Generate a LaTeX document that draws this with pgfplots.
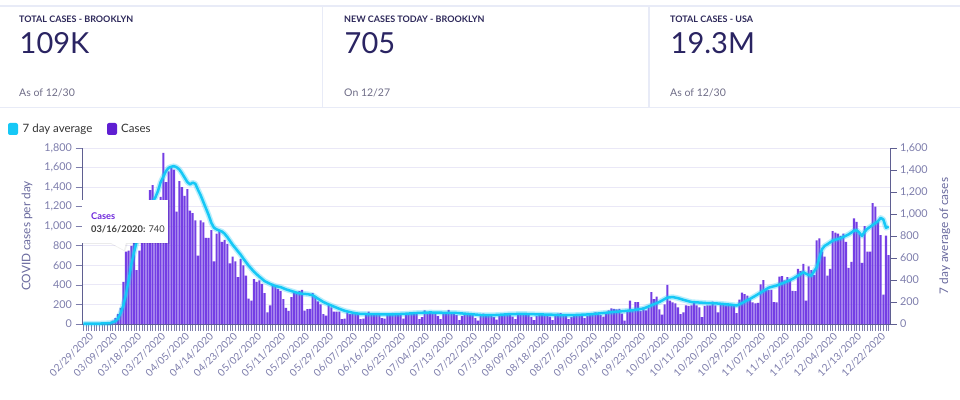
\documentclass[border=0pt]{standalone}
\usepackage{pgfplots}
\pgfplotsset{compat=1.18}
\usepackage{fontspec}
\setmainfont{Lato}
\definecolor{barc}{RGB}{116,62,228}
\definecolor{linec}{RGB}{22,200,246}
\definecolor{gridc}{RGB}{234,232,247}
\definecolor{axc}{RGB}{95,95,145}
\definecolor{tickc}{RGB}{125,125,172}
\definecolor{labc}{RGB}{105,105,158}
\definecolor{navy}{RGB}{42,36,98}
\definecolor{subgray}{RGB}{110,108,135}
\definecolor{headc}{RGB}{45,40,90}
\definecolor{panelline}{RGB}{232,235,247}
\definecolor{legpurple}{RGB}{95,30,210}
\definecolor{tipc}{RGB}{110,40,220}
\pgfplotsset{/pgf/number format/.cd, 1000 sep={,}, assume math mode=true}
\begin{document}
\begin{tikzpicture}[x=1pt,y=1pt]
\path[use as bounding box, fill=white] (0pt,0pt) rectangle (960pt,399pt);
% header panels
\draw[panelline, line width=1.2pt] (0pt,393pt) -- (960pt,393pt);
\draw[panelline, line width=1.2pt] (0pt,291.5pt) -- (960pt,291.5pt);
\draw[panelline, line width=1.2pt] (322.7pt,393pt) -- (322.7pt,291.5pt);
\draw[panelline, line width=1.2pt] (649pt,393pt) -- (649pt,291.5pt);
\foreach \xx/\ta/\tb/\tc in {19/TOTAL CASES - BROOKLYN/109K/As of 12\slash 30, 344/NEW CASES TODAY - BROOKLYN/705/On 12\slash 27, 670/TOTAL CASES - USA/19.3M/As of 12\slash 30}{
  \node[anchor=base west, inner sep=0, font=\bfseries\fontsize{9}{10}\selectfont, text=headc] at (\xx pt,376pt) {\ta};
  \node[anchor=base west, inner sep=0, font=\fontsize{29}{30}\selectfont, text=navy] at (\xx pt+0.5pt,345pt) {\tb};
  \node[anchor=base west, inner sep=0, font=\fontsize{10.5}{12}\selectfont, text=subgray] at (\xx pt,302.5pt) {\tc};
}
% legend
\fill[linec, rounded corners=2pt] (8pt,264pt) rectangle (18pt,276pt);
\node[anchor=base west, inner sep=0, font=\fontsize{11.5}{12}\selectfont, text=black!80] at (22.5pt,266pt) {7 day average};
\fill[legpurple, rounded corners=2pt] (107pt,264pt) rectangle (117pt,276pt);
\node[anchor=base west, inner sep=0, font=\fontsize{11.5}{12}\selectfont, text=black!80] at (121pt,266pt) {Cases};

\begin{axis}[at={(82pt,75pt)}, anchor=south west, scale only axis,
  width=808pt, height=176pt,
  xmin=-0.5, xmax=302.5, ymin=0, ymax=1800,
  axis x line*=bottom, axis y line*=left,
  axis line style={axc, line width=1pt, -},
  xtick={0,9,...,297},
  xticklabels={02/29/2020,03/09/2020,03/18/2020,03/27/2020,04/05/2020,04/14/2020,04/23/2020,05/02/2020,05/11/2020,05/20/2020,05/29/2020,06/07/2020,06/16/2020,06/25/2020,07/04/2020,07/13/2020,07/22/2020,07/31/2020,08/09/2020,08/18/2020,08/27/2020,09/05/2020,09/14/2020,09/23/2020,10/02/2020,10/11/2020,10/20/2020,10/29/2020,11/07/2020,11/16/2020,11/25/2020,12/04/2020,12/13/2020,12/22/2020},
  minor xtick={0,1,...,302},
  ytick={0,200,...,1800},
  tick align=outside,
  major tick length=6.5pt, minor tick length=6.5pt,
  every tick/.style={tickc, line width=0.7pt},
  x tick label style={rotate=45, anchor=north east, font=\fontsize{10.2}{11}\selectfont, text=tickc, inner sep=1pt, xshift=4pt, yshift=-3.5pt},
  y tick label style={font=\fontsize{10.8}{11}\selectfont, text=tickc},
  ymajorgrids, grid style={gridc, line width=1pt},
  ylabel={COVID cases per day},
  ylabel style={at={(axis description cs:-0.068,0.5)}, anchor=center, font=\fontsize{11.8}{12}\selectfont, text=labc},
  clip=false,
]
\addplot[ybar, bar width=0.8, bar shift=0, fill=barc, draw=none] table[row sep=\\] {
x y\\
0 0\\ 1 0\\ 2 0\\ 3 1\\ 4 1\\ 5 2\\ 6 3\\ 7 5\\ 8 8\\ 9 12\\
10 20\\ 11 35\\ 12 60\\ 13 100\\ 14 165\\ 15 430\\ 16 740\\ 17 750\\ 18 800\\ 19 840\\
20 550\\ 21 750\\ 22 880\\ 23 980\\ 24 1100\\ 25 1370\\ 26 1420\\ 27 1150\\ 28 1250\\ 29 1300\\
30 1750\\ 31 1450\\ 32 1560\\ 33 1600\\ 34 1580\\ 35 1150\\ 36 1460\\ 37 1400\\ 38 1310\\ 39 1380\\
40 1160\\ 41 1135\\ 42 1060\\ 43 700\\ 44 1060\\ 45 1040\\ 46 880\\ 47 880\\ 48 960\\ 49 640\\
50 925\\ 51 960\\ 52 840\\ 53 860\\ 54 820\\ 55 620\\ 56 690\\ 57 640\\ 58 480\\ 59 665\\
60 600\\ 61 495\\ 62 260\\ 63 240\\ 64 460\\ 65 430\\ 66 445\\ 67 410\\ 68 315\\ 69 120\\
70 190\\ 71 410\\ 72 400\\ 73 360\\ 74 340\\ 75 255\\ 76 165\\ 77 135\\ 78 275\\ 79 325\\
80 325\\ 81 335\\ 82 350\\ 83 136\\ 84 153\\ 85 155\\ 86 315\\ 87 275\\ 88 232\\ 89 200\\
90 100\\ 91 85\\ 92 200\\ 93 170\\ 94 126\\ 95 126\\ 96 126\\ 97 51\\ 98 55\\ 99 120\\
100 102\\ 101 102\\ 102 102\\ 103 100\\ 104 51\\ 105 55\\ 106 102\\ 107 126\\ 108 105\\ 109 110\\
110 100\\ 111 95\\ 112 60\\ 113 55\\ 114 100\\ 115 110\\ 116 115\\ 117 105\\ 118 100\\ 119 90\\
120 55\\ 121 95\\ 122 110\\ 123 115\\ 124 120\\ 125 110\\ 126 50\\ 127 70\\ 128 140\\ 129 115\\
130 110\\ 131 120\\ 132 105\\ 133 80\\ 134 50\\ 135 110\\ 136 120\\ 137 145\\ 138 115\\ 139 110\\
140 90\\ 141 40\\ 142 80\\ 143 100\\ 144 110\\ 145 105\\ 146 95\\ 147 60\\ 148 35\\ 149 85\\
150 105\\ 151 95\\ 152 100\\ 153 95\\ 154 70\\ 155 45\\ 156 85\\ 157 100\\ 158 95\\ 159 105\\
160 100\\ 161 75\\ 162 50\\ 163 90\\ 164 100\\ 165 110\\ 166 100\\ 167 95\\ 168 70\\ 169 40\\
170 80\\ 171 100\\ 172 105\\ 173 100\\ 174 95\\ 175 75\\ 176 40\\ 177 90\\ 178 105\\ 179 110\\
180 100\\ 181 90\\ 182 50\\ 183 70\\ 184 95\\ 185 100\\ 186 90\\ 187 80\\ 188 60\\ 189 85\\
190 100\\ 191 110\\ 192 120\\ 193 115\\ 194 90\\ 195 75\\ 196 110\\ 197 140\\ 198 160\\ 199 155\\
200 150\\ 201 155\\ 202 105\\ 203 35\\ 204 130\\ 205 240\\ 206 140\\ 207 225\\ 208 225\\ 209 135\\
210 170\\ 211 140\\ 212 170\\ 213 325\\ 214 255\\ 215 280\\ 216 150\\ 217 95\\ 218 200\\ 219 400\\
220 240\\ 221 220\\ 222 210\\ 223 170\\ 224 100\\ 225 120\\ 226 190\\ 227 185\\ 228 190\\ 229 230\\
230 190\\ 231 170\\ 232 70\\ 233 185\\ 234 190\\ 235 190\\ 236 230\\ 237 190\\ 238 120\\ 239 200\\
240 195\\ 241 190\\ 242 200\\ 243 190\\ 244 185\\ 245 110\\ 246 250\\ 247 320\\ 248 305\\ 249 290\\
250 265\\ 251 220\\ 252 210\\ 253 215\\ 254 405\\ 255 450\\ 256 350\\ 257 350\\ 258 350\\ 259 225\\
260 220\\ 261 485\\ 262 490\\ 263 445\\ 264 480\\ 265 445\\ 266 340\\ 267 335\\ 268 565\\ 269 540\\
270 615\\ 271 240\\ 272 590\\ 273 550\\ 274 500\\ 275 855\\ 276 875\\ 277 740\\ 278 690\\ 279 495\\
280 565\\ 281 950\\ 282 935\\ 283 925\\ 284 900\\ 285 925\\ 286 840\\ 287 575\\ 288 635\\ 289 1080\\
290 1045\\ 291 925\\ 292 625\\ 293 1000\\ 294 740\\ 295 740\\ 296 1235\\ 297 1200\\ 298 1045\\ 299 910\\
300 300\\ 301 905\\ 302 705\\
};
\end{axis}

\begin{axis}[at={(82pt,75pt)}, anchor=south west, scale only axis,
  width=808pt, height=176pt,
  xmin=-0.5, xmax=302.5, ymin=0, ymax=1600,
  axis y line*=right, axis x line=none,
  axis line style={axc, line width=1pt, -},
  ytick={0,200,...,1600},
  tick align=outside, major tick length=6.5pt,
  every tick/.style={axc, line width=0.8pt},
  y tick label style={font=\fontsize{10.8}{11}\selectfont, text=tickc},
  ylabel={7 day average of cases},
  ylabel style={at={(axis description cs:1.068,0.5)}, anchor=center, font=\fontsize{11.8}{12}\selectfont, text=labc},
  clip=false,
]
\addplot[linec, opacity=0.3, line width=5.5pt, line join=round] table[row sep=\\] {
x y\\
0 3\\ 5 3\\ 10 8\\ 12 25\\ 13 50\\ 14 100\\ 15 170\\ 16 270\\ 17 400\\ 18 540\\ 19 650\\
20 750\\ 21 840\\ 22 910\\ 23 970\\ 24 1020\\ 25 1070\\ 26 1110\\ 27 1150\\ 28 1210\\ 29 1290\\
30 1340\\ 31 1390\\ 32 1420\\ 33 1430\\ 34 1435\\ 35 1425\\ 36 1405\\ 37 1370\\ 38 1330\\ 39 1290\\
40 1270\\ 41 1285\\ 42 1275\\ 43 1220\\ 44 1170\\ 45 1110\\ 46 1050\\ 47 990\\ 48 920\\ 49 875\\
50 860\\ 51 850\\ 52 840\\ 53 820\\ 54 790\\ 55 755\\ 56 720\\ 57 690\\ 58 660\\ 59 630\\
60 595\\ 62 530\\ 64 475\\ 66 430\\ 68 390\\ 70 365\\ 72 345\\ 74 335\\ 76 315\\ 78 300\\
80 285\\ 82 275\\ 84 272\\ 86 262\\ 88 230\\ 90 200\\ 92 178\\ 94 158\\ 96 138\\ 98 120\\
100 108\\ 102 98\\ 104 92\\ 108 90\\ 115 87\\ 120 92\\ 125 100\\ 130 105\\ 135 102\\ 140 100\\
145 90\\ 150 80\\ 155 82\\ 160 90\\ 165 92\\ 170 88\\ 175 85\\ 180 80\\ 185 82\\ 190 88\\
195 100\\ 200 112\\ 203 118\\ 206 125\\ 210 140\\ 213 170\\ 216 200\\ 219 240\\ 221 245\\ 223 235\\
225 220\\ 228 200\\ 231 195\\ 234 190\\ 237 188\\ 240 182\\ 243 175\\ 245 168\\ 247 190\\ 251 242\\
254 285\\ 257 330\\ 260 350\\ 263 378\\ 266 410\\ 268 440\\ 270 470\\ 272 445\\ 273 440\\ 275 515\\
276 600\\ 277 680\\ 278 710\\ 279 725\\ 281 758\\ 284 780\\ 286 803\\ 287 815\\ 289 848\\ 290 852\\
291 830\\ 292 800\\ 293 840\\ 294 865\\ 296 900\\ 298 935\\ 299 965\\ 300 950\\ 301 875\\ 302 885\\
};
\addplot[linec, line width=2.5pt, line join=round] table[row sep=\\] {
x y\\
0 3\\ 5 3\\ 10 8\\ 12 25\\ 13 50\\ 14 100\\ 15 170\\ 16 270\\ 17 400\\ 18 540\\ 19 650\\
20 750\\ 21 840\\ 22 910\\ 23 970\\ 24 1020\\ 25 1070\\ 26 1110\\ 27 1150\\ 28 1210\\ 29 1290\\
30 1340\\ 31 1390\\ 32 1420\\ 33 1430\\ 34 1435\\ 35 1425\\ 36 1405\\ 37 1370\\ 38 1330\\ 39 1290\\
40 1270\\ 41 1285\\ 42 1275\\ 43 1220\\ 44 1170\\ 45 1110\\ 46 1050\\ 47 990\\ 48 920\\ 49 875\\
50 860\\ 51 850\\ 52 840\\ 53 820\\ 54 790\\ 55 755\\ 56 720\\ 57 690\\ 58 660\\ 59 630\\
60 595\\ 62 530\\ 64 475\\ 66 430\\ 68 390\\ 70 365\\ 72 345\\ 74 335\\ 76 315\\ 78 300\\
80 285\\ 82 275\\ 84 272\\ 86 262\\ 88 230\\ 90 200\\ 92 178\\ 94 158\\ 96 138\\ 98 120\\
100 108\\ 102 98\\ 104 92\\ 108 90\\ 115 87\\ 120 92\\ 125 100\\ 130 105\\ 135 102\\ 140 100\\
145 90\\ 150 80\\ 155 82\\ 160 90\\ 165 92\\ 170 88\\ 175 85\\ 180 80\\ 185 82\\ 190 88\\
195 100\\ 200 112\\ 203 118\\ 206 125\\ 210 140\\ 213 170\\ 216 200\\ 219 240\\ 221 245\\ 223 235\\
225 220\\ 228 200\\ 231 195\\ 234 190\\ 237 188\\ 240 182\\ 243 175\\ 245 168\\ 247 190\\ 251 242\\
254 285\\ 257 330\\ 260 350\\ 263 378\\ 266 410\\ 268 440\\ 270 470\\ 272 445\\ 273 440\\ 275 515\\
276 600\\ 277 680\\ 278 710\\ 279 725\\ 281 758\\ 284 780\\ 286 803\\ 287 815\\ 289 848\\ 290 852\\
291 830\\ 292 800\\ 293 840\\ 294 865\\ 296 900\\ 298 935\\ 299 965\\ 300 950\\ 301 875\\ 302 885\\
};
\end{axis}

% tooltip
\fill[black, opacity=0.08] (83pt,154.5pt) rectangle (169.5pt,199pt);
\fill[black, opacity=0.06] (111pt,155pt) -- (127.5pt,155pt) -- (125pt,147.5pt) -- cycle;
\fill[white] (82pt,156pt) rectangle (168pt,199pt);
\fill[white] (110pt,156.5pt) -- (126pt,156.5pt) -- (124pt,149pt) -- cycle;
\node[anchor=base west, inner sep=0, font=\bfseries\fontsize{9.3}{10}\selectfont, text=tipc] at (91pt,179.5pt) {Cases};
\node[anchor=base west, inner sep=0, font=\fontsize{9.3}{10}\selectfont, text=black!75] at (91pt,166.5pt) {\textbf{03/16/2020:} 740};
\end{tikzpicture}
\end{document}
